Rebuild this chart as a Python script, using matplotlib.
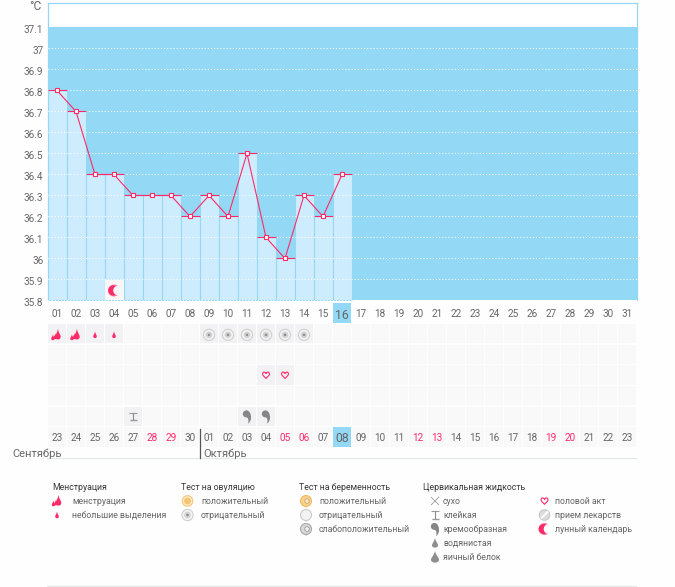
import matplotlib
matplotlib.use("Agg")
import matplotlib.pyplot as plt
from matplotlib.patches import PathPatch, Rectangle, Ellipse
from matplotlib.path import Path
from matplotlib.transforms import ScaledTranslation

plt.rcParams['font.family'] = ['Roboto', 'DejaVu Sans']

# ---------- data ----------
temps = [36.8, 36.7, 36.4, 36.4, 36.3, 36.3, 36.3, 36.2, 36.3, 36.2, 36.5, 36.1, 36.0, 36.3, 36.2, 36.4]
cycle_days = [f"{d:02d}" for d in range(1, 32)]
date_labels = ["23", "24", "25", "26", "27", "28", "29", "30", "01", "02", "03", "04", "05", "06", "07", "08",
               "09", "10", "11", "12", "13", "14", "15", "16", "17", "18", "19", "20", "21", "22", "23"]
weekend_idx = [5, 6, 12, 13, 19, 20, 26, 27]
today_idx = 15
ytick_vals = [35.8, 35.9, 36, 36.1, 36.2, 36.3, 36.4, 36.5, 36.6, 36.7, 36.8, 36.9, 37, 37.1]
ytick_labels = ["35.8", "35.9", "36", "36.1", "36.2", "36.3", "36.4", "36.5", "36.6", "36.7", "36.8", "36.9", "37", "37.1"]
menstruation_days = [0, 1]
spotting_days = [2, 3]
ovulation_neg_days = [8, 9, 10, 11, 12, 13]
intercourse_days = [11, 12]
sticky_days = [4]
creamy_days = [10, 11]
moon_day = 3
months = ["Сентябрь", "Октябрь"]

# ---------- colours ----------
SKY = "#93d9f5"
BAR = "#cdecfd"
RED = "#ff2a68"
TILE = "#faf9fa"
TILE_ON = "#f2f1f3"
TXT = "#666666"
GREY = "#8e8e8e"

W, H = 675, 587
fig = plt.figure(figsize=(W / 100, H / 100), dpi=100, facecolor="#fefefe")


def axes_px(l, t, r, b, **kw):
    return fig.add_axes([l / W, 1 - b / H, (r - l) / W, (b - t) / H], **kw)


# ---------- icon drawing: offsets in pixels, y down ----------
class Pen:
    def __init__(self, ax, cx, cy, sx, sy):
        self.ax, self.cx, self.cy, self.sx, self.sy = ax, cx, cy, sx, sy

    def path(self, verts, codes, fc="none", ec="none", lw=0.0, z=6):
        v = [(self.cx + x * self.sx, self.cy + y * self.sy) for x, y in verts]
        self.ax.add_patch(PathPatch(Path(v, codes), fc=fc, ec=ec, lw=lw, zorder=z, clip_on=False))

    def circle(self, x, y, r, fc, ec="none", lw=0.0, z=6):
        self.ax.add_patch(Ellipse((self.cx + x * self.sx, self.cy + y * self.sy), 2 * r * abs(self.sx),
                                  2 * r * abs(self.sy), fc=fc, ec=ec, lw=lw, zorder=z, clip_on=False))

    def line(self, x0, y0, x1, y1, c=GREY, lw=0.9, z=6):
        self.ax.plot([self.cx + x0 * self.sx, self.cx + x1 * self.sx],
                     [self.cy + y0 * self.sy, self.cy + y1 * self.sy],
                     color=c, lw=lw, zorder=z, clip_on=False, solid_capstyle="butt")

    def drop(self, x, y, w, h, c):
        hw, hh = w / 2, h / 2
        C4, M, Z = Path.CURVE4, Path.MOVETO, Path.CLOSEPOLY
        v = [(x, y - hh), (x + hw * .3, y - hh * .2), (x + hw, y + hh * .1), (x + hw, y + hh * .45),
             (x + hw, y + hh * 1.1), (x - hw, y + hh * 1.1), (x - hw, y + hh * .45),
             (x - hw, y + hh * .1), (x - hw * .3, y - hh * .2), (x, y - hh), (x, y - hh)]
        self.path(v, [M, C4, C4, C4, C4, C4, C4, C4, C4, C4, Z], fc=c)


def ic_menses(p):
    p.drop(-3.5, 2.5, 3.5, 6, RED)
    p.drop(1.5, -0.5, 5.5, 11, RED)
    p.drop(-1, 1.5, 3.5, 6, RED)


def ic_spot(p):
    p.drop(0, 0, 3.6, 7, RED)


def ic_ov_pos(p):
    p.circle(0, 0, 5.3, "#fdeccd", "#f4c778", 0.8)
    p.circle(0, 0, 3.5, "#f6c573")


def ic_ov_neg(p):
    p.circle(0, 0, 5.6, "#f4f4f4", "#d0d0d0", 0.8)
    p.circle(0, 0, 3.4, "#d6d6d6")
    p.circle(0, 0, 1.4, "#949494")


def blob(p, fc, ec):
    p.path([(-2, 4), (0, 7), (2, 4), (-2, 4)], [Path.MOVETO, Path.LINETO, Path.LINETO, Path.CLOSEPOLY], fc=ec)
    p.circle(0, 0, 5.5, fc, ec, 0.8)


def ic_pr_pos(p):
    blob(p, "#f8cf8c", "#f2bd63")
    p.circle(1, 0, 2.3, "#f4e3c4", "#c9a46a", 0.5)


def ic_pr_neg(p):
    blob(p, "#f3f3f3", "#c9c9c9")


def ic_pr_weak(p):
    blob(p, "#d8d8d8", "#a9a9a9")
    p.circle(1, 0, 2.3, "#f0f0f0", "#8f8f8f", 0.5)


def ic_dry(p):
    p.line(-4, -4, 4, 4, "#9a9a9a", 0.6)
    p.line(-4, 4, 4, -4, "#9a9a9a", 0.6)


def ic_sticky(p):
    p.line(-4, -4, 4, -4, "#9a9a9a", 0.8)
    p.line(0, -4, 0, 4, "#8a8a8a", 0.8)
    p.line(-3.5, 4, 3.5, 4, "#9a9a9a", 1.0)


def ic_creamy(p):
    M, C4, Z = Path.MOVETO, Path.CURVE4, Path.CLOSEPOLY
    p.circle(-0.8, -2.6, 3.4, "#868686")
    p.path([(-1, -6), (3, -6), (4, -2), (4, 1), (4.2, 3), (3, 6), (1, 7), (2, 4), (1.5, 1), (-1, 0.5), (-1, -6)],
           [M, C4, C4, C4, C4, C4, C4, C4, C4, C4, Z], fc="#868686")


def ic_water(p):
    p.drop(0, 0, 6, 10, GREY)


def ic_egg(p):
    p.drop(0, 0, 8, 12, GREY)


def ic_heart(p, fc="none"):
    M, C4, Z = Path.MOVETO, Path.CURVE4, Path.CLOSEPOLY
    k = 0.75
    pts = [(0, -2), (-1, -5), (-5, -5), (-4.5, -1), (-4, 1), (-1, 3), (0, 4.5), (1, 3), (4, 1), (4.5, -1),
           (5, -5), (1, -5), (0, -2), (0, -2)]
    p.path([(x * k, y * k) for x, y in pts], [M] + [C4] * 12 + [Z], fc=fc, ec=RED, lw=0.8)


def ic_pill(p):
    p.circle(0, 0, 5.3, "#dcdcdc", "#c4c4c4", 0.7)
    p.line(-3.5, 3.5, 3.5, -3.5, "#ffffff", 1.3)


def ic_moon(p, bg):
    p.circle(0, 0, 6, "#fb7ba2")
    p.circle(-0.8, 0, 5, RED)
    p.circle(4, 0, 4.8, bg)


# ---------- main temperature chart ----------
PX_T, PX_B = 3, 300.5
L, R = 47.5, 636.5
ymin = 35.8
ymax = 35.8 + (PX_B - PX_T) / 210
ax = axes_px(L, PX_T, R, PX_B, facecolor="white")
ax.set_xlim(0, 31)
ax.set_ylim(ymin, ymax)
ax.axhspan(ymin, 37.1, color=SKY, lw=0, zorder=1)
xs = [i + 0.5 for i in range(len(temps))]
ax.bar(xs, [t - ymin for t in temps], width=1, bottom=ymin, color=BAR, edgecolor=SKY, lw=0.75, zorder=2)
for v in ytick_vals[:-1]:
    ax.axhline(v, color="white", lw=0.75, ls=(0, (1, 2)), zorder=3)
ax.hlines(temps, [x - 0.5 for x in xs], [x + 0.5 for x in xs], color=RED, lw=0.8, zorder=4)
ax.plot(xs, temps, color=RED, lw=0.8, zorder=5, marker="s", ms=3.4, mfc="white", mec=RED, mew=0.8)
ax.add_patch(Rectangle((moon_day, 35.8), 1, 20 / 210, fc="#f9f6f7", ec="none", zorder=5))
ic_moon(Pen(ax, moon_day + 0.5, 35.8 + 10 / 210, 1 / 19, -1 / 210), "#f9f6f7")

for s in ("left", "right", "top"):
    ax.spines[s].set_color(SKY)
    ax.spines[s].set_linewidth(0.9)
ax.spines["bottom"].set_visible(False)
ax.set_yticks(ytick_vals, ytick_labels, fontsize=7.2, color=TXT)
ax.set_xticks([i + 0.5 for i in range(31)], cycle_days, fontsize=7.2, color=TXT)
ax.tick_params(length=0)
ax.tick_params(axis="y", pad=3)
ax.tick_params(axis="x", pad=6.2)
ax.get_xticklabels()[today_idx].set_fontsize(8.8)
down = ScaledTranslation(0, -2 / 100, fig.dpi_scale_trans)
for lab in ax.get_yticklabels():
    lab.set_transform(lab.get_transform() + down)
ax.add_patch(Rectangle((today_idx + 0.05, ymin - 22.5 / 210), 0.93, 19.5 / 210, fc=SKY, ec="none",
                       clip_on=False, zorder=0))

# ---------- marker grid ----------
panel = axes_px(L, 323.5, R, 447.5, facecolor="none")
panel.set_xlim(0, 31)
panel.set_ylim(6, 0)
panel.axis("off")
sx, sy = 1 / 19, 1 / 20.67
active = {(0, d) for d in menstruation_days + spotting_days + ovulation_neg_days}
active |= {(2, d) for d in intercourse_days}
active |= {(4, d) for d in sticky_days + creamy_days}
for row in range(6):
    for d in range(31):
        c = TILE_ON if (row, d) in active else TILE
        if row == 5 and d == today_idx:
            c = SKY
        panel.add_patch(Rectangle((d + 0.05, row + 0.02), 0.93, 0.94, fc=c, ec="none", zorder=1))
for d in range(31):
    col = RED if d in weekend_idx else TXT
    fs = 8.8 if d == today_idx else 7.2
    panel.text(d + 0.5, 5.55, date_labels[d], ha="center", va="center", color=col, fontsize=fs, zorder=3)
for d in menstruation_days:
    ic_menses(Pen(panel, d + 0.47, 0.55, sx, sy))
for d in spotting_days:
    ic_spot(Pen(panel, d + 0.5, 0.55, sx, sy))
for d in ovulation_neg_days:
    ic_ov_neg(Pen(panel, d + 0.5, 0.55, sx, sy))
for d in intercourse_days:
    ic_heart(Pen(panel, d + 0.5, 2.5, sx, sy))
for d in sticky_days:
    ic_sticky(Pen(panel, d + 0.5, 4.5, sx, sy))
for d in creamy_days:
    ic_creamy(Pen(panel, d + 0.5, 4.5, sx, sy))

# ---------- overlay: labels and legend, pixel coordinates ----------
ov = fig.add_axes([0, 0, 1, 1], facecolor="none")
ov.set_xlim(0, W)
ov.set_ylim(H, 0)
ov.axis("off")
ov.text(35, 6.5, "°C", ha="center", va="center", fontsize=8.6, color=TXT)
ov.plot([47, 636], [458, 458], color="#e6e8e8", lw=0.9)
ov.plot([47, 636], [586, 586], color="#e6e8e8", lw=0.9)
ov.plot([199.5, 199.5], [429, 458], color="#555555", lw=0.9)
ov.text(12, 453.5, months[0], ha="left", va="center", fontsize=8.0, color=TXT)
ov.text(203.5, 453.5, months[1], ha="left", va="center", fontsize=8.0, color=TXT)

LEG_FS = 6.3
legend = [
    (52, "Менструация", 57, 72, [(ic_menses, "менструация"), (ic_spot, "небольшие выделения")]),
    (181, "Тест на овуляцию", 187.5, 201, [(ic_ov_pos, "положительный"), (ic_ov_neg, "отрицательный")]),
    (299, "Тест на беременность", 306, 319, [(ic_pr_pos, "положительный"), (ic_pr_neg, "отрицательный"),
                                              (ic_pr_weak, "слабоположительный")]),
    (423, "Цервикальная жидкость", 435, 443, [(ic_dry, "сухо"), (ic_sticky, "клейкая"), (ic_creamy, "кремообразная"),
                                               (ic_water, "водянистая"), (ic_egg, "яичный белок")]),
    (None, "", 544.5, 555, [(ic_heart, "половой акт"), (ic_pill, "прием лекарств"),
                            (lambda p: ic_moon(p, "#fefefe"), "лунный календарь")]),
]
for hx, title, ix, tx, items in legend:
    if hx is not None:
        ov.text(hx, 487, title, ha="left", va="center", fontsize=LEG_FS, color="#3a3a3a")
    for i, (fn, lab) in enumerate(items):
        y = 501 + 14 * i
        fn(Pen(ov, ix, y, 1, 1))
        ov.text(tx, y, lab, ha="left", va="center", fontsize=LEG_FS, color=TXT)

fig.savefig("out.png", dpi=100, facecolor=fig.get_facecolor())
